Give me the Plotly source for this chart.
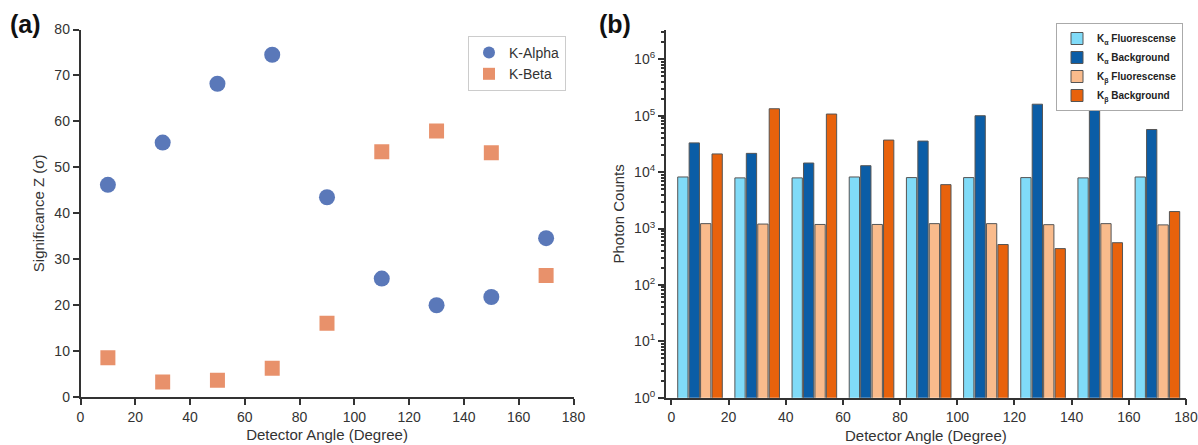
import plotly.graph_objects as go

# ---- Panel (a) data ----
angles_a = [10, 30, 50, 70, 90, 110, 130, 150, 170]
z_alpha = [46.2, 55.4, 68.2, 74.5, 43.5, 25.8, 20.0, 21.8, 34.6]
z_beta = [8.6, 3.3, 3.7, 6.3, 16.1, 53.4, 57.9, 53.2, 26.5]

# ---- Panel (b) data ----
angles_b = [10, 30, 50, 70, 90, 110, 130, 150, 170]
ka_fluor = [8200, 7900, 7900, 8200, 8000, 8000, 8000, 7900, 8200]
ka_bg = [33000, 21500, 14500, 13000, 35500, 100000, 160000, 135000, 57000]
kb_fluor = [1220, 1200, 1180, 1180, 1220, 1220, 1170, 1220, 1160]
kb_bg = [21000, 133000, 107000, 37000, 6000, 520, 440, 560, 2000]
log_tick_vals = [1, 10, 100, 1000, 10000, 100000, 1000000]
log_tick_text = ["10<sup>0</sup>", "10<sup>1</sup>", "10<sup>2</sup>", "10<sup>3</sup>",
                 "10<sup>4</sup>", "10<sup>5</sup>", "10<sup>6</sup>"]

W, H = 1198, 445
FONT = "Liberation Sans, Arial, sans-serif"
AX = "#333333"

def px_x(p):
    return p / W

def px_y(p):
    return (H - p) / H

fig = go.Figure()

# Panel (a) scatter
fig.add_trace(go.Scatter(
    x=angles_a, y=z_alpha, mode="markers", name="K-Alpha",
    marker=dict(symbol="circle", size=16, color="#5a78b9"),
    xaxis="x", yaxis="y", legend="legend"))
fig.add_trace(go.Scatter(
    x=angles_a, y=z_beta, mode="markers", name="K-Beta",
    marker=dict(symbol="square", size=15, color="#e8916b"),
    xaxis="x", yaxis="y", legend="legend"))

# Panel (b) bars
bar_specs = [
    (ka_fluor, "K<sub>α</sub> Fluorescense", "#80dbf8"),
    (ka_bg, "K<sub>α</sub> Background", "#0b5da6"),
    (kb_fluor, "K<sub>β</sub> Fluorescense", "#f9bb8c"),
    (kb_bg, "K<sub>β</sub> Background", "#e8620c"),
]
for vals, nm, col in bar_specs:
    fig.add_trace(go.Bar(
        x=angles_b, y=vals, name=nm,
        marker=dict(color=col, line=dict(color="#555555", width=1)),
        xaxis="x2", yaxis="y2", legend="legend2"))

common_axis = dict(
    showline=True, linecolor=AX, linewidth=1.5, ticks="outside",
    ticklen=6, tickwidth=1.5, tickcolor=AX, showgrid=False, zeroline=False,
    tickfont=dict(family=FONT, size=14, color=AX),
    title_font=dict(family=FONT, size=15, color=AX), automargin=False,
)

fig.update_layout(
    width=W, height=H, margin=dict(l=0, r=0, t=0, b=0, autoexpand=False),
    paper_bgcolor="white", plot_bgcolor="white",
    font=dict(family=FONT, color=AX),
    barmode="group", bargap=0.2, bargroupgap=0.1,
    xaxis=dict(domain=[px_x(80.5), px_x(573.5)], range=[0, 180], dtick=20,
               title=dict(text="Detector Angle (Degree)", standoff=6),
               anchor="y", **common_axis),
    yaxis=dict(domain=[px_y(397.2), px_y(29.5)], range=[0, 80], dtick=10,
               title=dict(text="Significance Z (σ)", standoff=6),
               anchor="x", **common_axis),
    xaxis2=dict(domain=[px_x(665.7), px_x(1186)], range=[-2, 180], dtick=20,
                title=dict(text="Detector Angle (Degree)", standoff=6),
                anchor="y2", **common_axis),
    yaxis2=dict(domain=[px_y(397.7), px_y(30)], type="log", range=[0, 6.52],
                tickvals=log_tick_vals, ticktext=log_tick_text,
                minor=dict(ticks="outside", ticklen=3, tickcolor=AX, dtick="D1", showgrid=False),
                title=dict(text="Photon Counts", standoff=6),
                anchor="x2", **common_axis),
    legend=dict(x=px_x(566), y=px_y(36), xanchor="right", yanchor="top",
                bgcolor="white", bordercolor="#cccccc", borderwidth=1,
                font=dict(family=FONT, size=14, color=AX), itemsizing="constant",
                tracegroupgap=2),
    legend2=dict(x=px_x(1183), y=px_y(23), xanchor="right", yanchor="top",
                 bgcolor="white", bordercolor="#aaaaaa", borderwidth=1,
                 font=dict(family=FONT, size=10, color="#222222", weight="bold"),
                 traceorder="normal", tracegroupgap=0, itemwidth=30),
    showlegend=True,
)

fig.add_annotation(text="<b>(a)</b>", x=px_x(8), y=px_y(24), xref="paper", yref="paper",
                   xanchor="left", yanchor="middle", showarrow=False,
                   font=dict(family=FONT, size=25, color="#111111"))
fig.add_annotation(text="<b>(b)</b>", x=px_x(597), y=px_y(24), xref="paper", yref="paper",
                   xanchor="left", yanchor="middle", showarrow=False,
                   font=dict(family=FONT, size=25, color="#111111"))

# remove the browser's default 8px body margin so the figure fills the window
fig.write_html("out.html",
               config={"displayModeBar": False},
               post_script="document.body.style.margin='0';document.body.style.overflow='hidden';")
